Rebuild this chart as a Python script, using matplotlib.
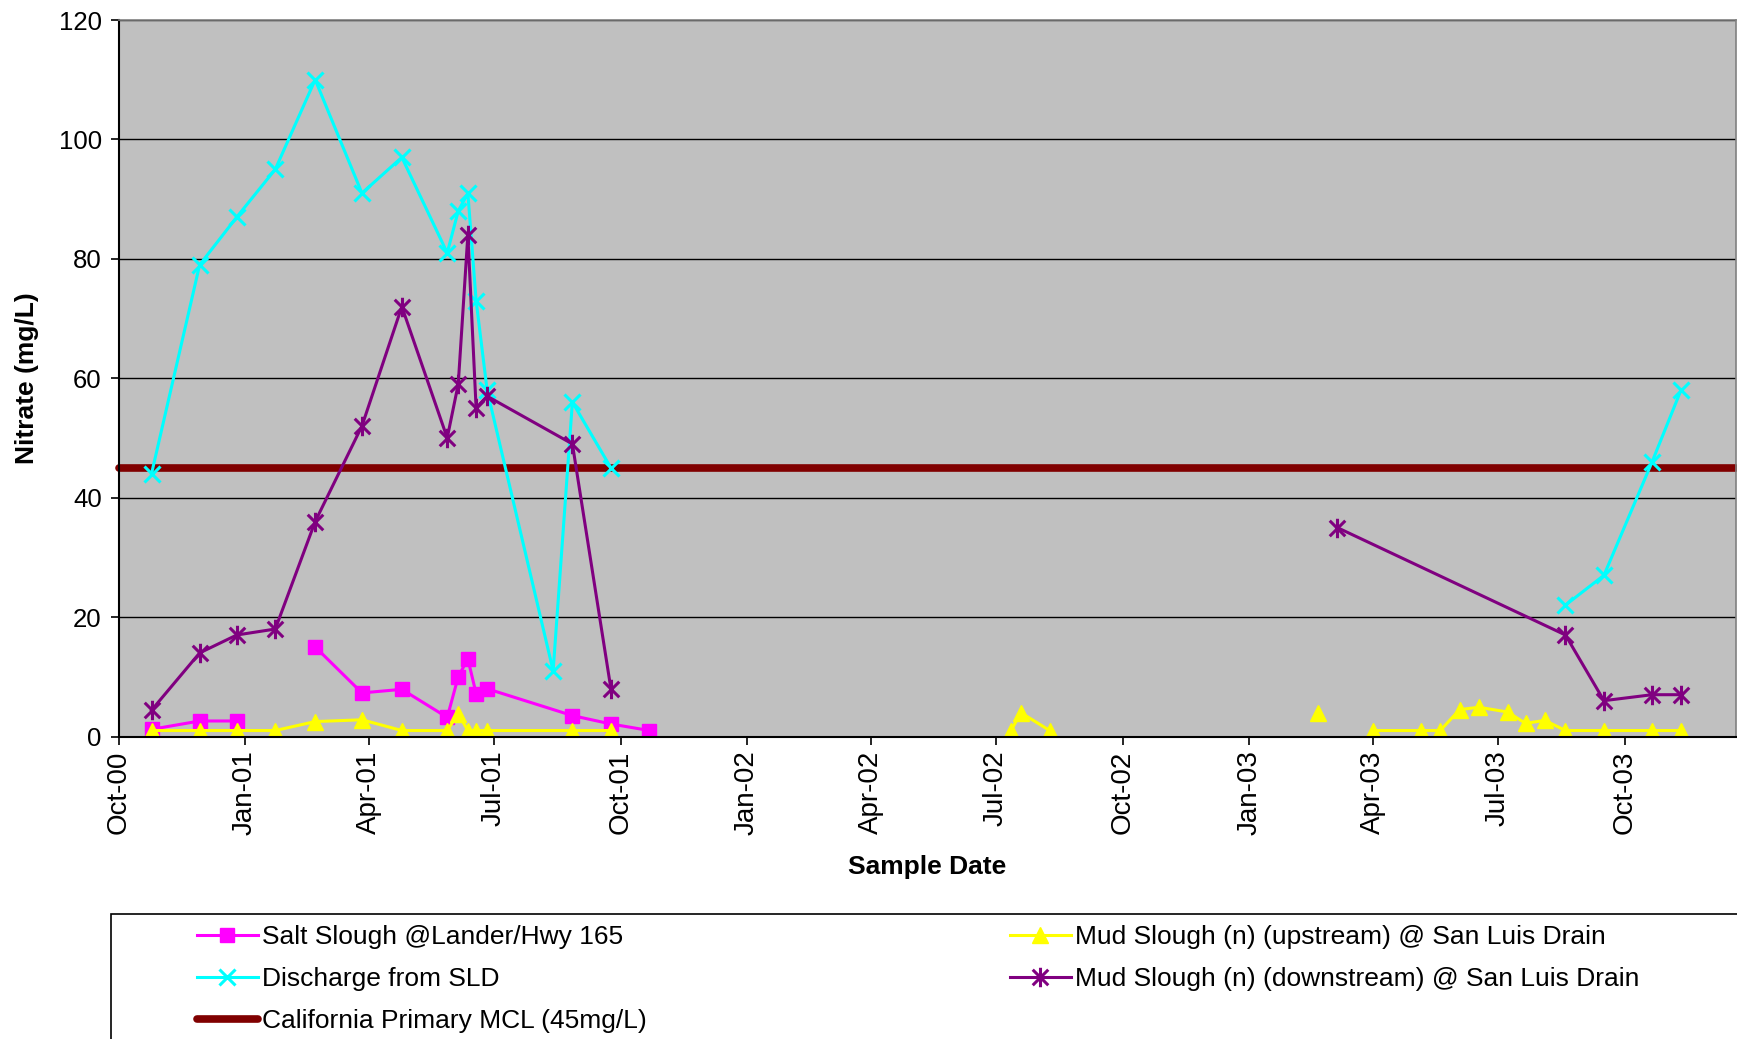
import matplotlib
matplotlib.use("Agg")
import matplotlib.pyplot as plt
import matplotlib.dates as mdates
from matplotlib.path import Path
from matplotlib.patches import Rectangle
import numpy as np
import pandas as pd

plt.rcParams["font.family"] = ["Liberation Sans", "DejaVu Sans"]

nan = np.nan

# sample dates 2000-2001 (shared by most series)
dates_01 = ["2000-10-25", "2000-11-29", "2000-12-26", "2001-01-23", "2001-02-21",
            "2001-03-27", "2001-04-25", "2001-05-28", "2001-06-05", "2001-06-12",
            "2001-06-18", "2001-06-26"]

salt_dates = dates_01 + ["2001-08-27", "2001-09-24", "2001-10-22"]
salt_vals = [1.2, 2.6, 2.6, nan, 15, 7.3, 7.9, 3.2, 10, 13, 7.2, 8, 3.5, 2.1, 1.0]

sld_dates = dates_01 + ["2001-08-13", "2001-08-27", "2001-09-24", "2002-06-01",
                        "2003-08-19", "2003-09-16", "2003-10-21", "2003-11-11"]
sld_vals = [44, 79, 87, 95, 110, 91, 97, 81, 88, 91, 73, 58, 11, 56, 45, nan,
            22, 27, 46, 58]

down_dates = dates_01 + ["2001-08-27", "2001-09-24", "2002-06-01",
                         "2003-03-06", "2003-08-19", "2003-09-16", "2003-10-21", "2003-11-11"]
down_vals = [4.4, 14, 17, 18, 36, 52, 72, 50, 59, 84, 55, 57, 49, 8, nan,
             35, 17, 6, 7, 7]

up_dates = dates_01 + ["2001-08-27", "2001-09-24", "2002-06-01",
                       "2002-07-12", "2002-07-19", "2002-08-09", "2002-12-01",
                       "2003-02-20", "2003-03-15",
                       "2003-04-01", "2003-05-06", "2003-05-20", "2003-06-03", "2003-06-17",
                       "2003-07-08", "2003-07-21", "2003-08-04", "2003-08-19", "2003-09-16",
                       "2003-10-21", "2003-11-11"]
up_vals = [1, 1, 1, 1, 2.5, 2.8, 1, 1, 3.8, 1, 1, 1, 1, 1, nan,
           1, 4, 1, nan,
           4, nan,
           1, 1, 1, 4.5, 4.9, 4.1, 2.2, 2.7, 1, 1, 1, 1]

mcl = 45
x_start = pd.Timestamp("2000-10-01")
x_end = x_start + pd.Timedelta(days=1176)
tick_dates = pd.date_range("2000-10-01", "2003-10-01", freq="3MS")

star = Path([(-1, -1), (1, 1), (-1, 1), (1, -1), (0, -1.25), (0, 1.25)],
            [Path.MOVETO, Path.LINETO, Path.MOVETO, Path.LINETO, Path.MOVETO, Path.LINETO])

W, H = 1737, 1039
fig = plt.figure(figsize=(W / 100, H / 100), dpi=100)
ax = fig.add_axes([118.5 / W, 1 - 736.5 / H, (1736 - 118.5) / W, (736.5 - 20) / H])
ax.set_facecolor("#C0C0C0")

lw = 2.2
h_salt, = ax.plot(pd.to_datetime(salt_dates), salt_vals, color="#FF00FF", lw=lw,
                  marker="s", ms=10.5, label="Salt Slough @Lander/Hwy 165")
h_sld, = ax.plot(pd.to_datetime(sld_dates), sld_vals, color="#00FFFF", lw=lw,
                 marker="x", ms=11, mew=2.2, label="Discharge from SLD")
h_mcl, = ax.plot([x_start, x_end], [mcl, mcl], color="#800000", lw=5.5,
                 solid_capstyle="round", clip_on=False, zorder=1.5,
                 label="California Primary MCL (45mg/L)")
h_up, = ax.plot(pd.to_datetime(up_dates), up_vals, color="#FFFF00", lw=lw,
                marker="^", ms=11.5, label="Mud Slough (n) (upstream) @ San Luis Drain")
h_down, = ax.plot(pd.to_datetime(down_dates), down_vals, color="#800080", lw=lw,
                  marker=star, ms=14, mew=2.2, label="Mud Slough (n) (downstream) @ San Luis Drain")

ax.set_xlim(x_start, x_end)
ax.set_ylim(0, 120)
ax.set_yticks(np.arange(0, 121, 20))
ax.yaxis.grid(True, color="black", lw=1)
ax.set_axisbelow(True)
ax.set_xticks(tick_dates)
ax.xaxis.set_major_formatter(mdates.DateFormatter("%b-%y"))
ax.tick_params(axis="x", labelrotation=90, labelsize=20, length=6, width=1.2, direction="out", pad=4)
ax.tick_params(axis="y", labelsize=18.5, length=6, width=1.2, direction="out", pad=6)
for lab in ax.get_xticklabels():
    lab.set_verticalalignment("top")

for s in ["left", "bottom"]:
    ax.spines[s].set_color("black")
    ax.spines[s].set_linewidth(1.5)
for s in ["top", "right"]:
    ax.spines[s].set_color("#808080")
    ax.spines[s].set_linewidth(1.2)

ax.set_xlabel("Sample Date", fontsize=19, fontweight="bold", labelpad=14.5)
ax.set_ylabel("Nitrate (mg/L)", fontsize=19, fontweight="bold", labelpad=14)

# legend box
fig.patches.append(Rectangle((111 / W, -0.1), 1.0, (1 - 914 / H) + 0.1,
                             transform=fig.transFigure, fill=False,
                             edgecolor="black", lw=1.2))

leg_kw = dict(frameon=False, fontsize=19, borderpad=0, borderaxespad=0,
              handlelength=2.3, handletextpad=0.15, labelspacing=0.68, loc="upper left")
fig.legend(handles=[h_salt, h_sld, h_mcl], bbox_to_anchor=(197 / W, 1 - 925 / H), **leg_kw)
fig.legend(handles=[h_up, h_down], bbox_to_anchor=(1010 / W, 1 - 925 / H), **leg_kw)

fig.savefig("out.png", dpi=100)
